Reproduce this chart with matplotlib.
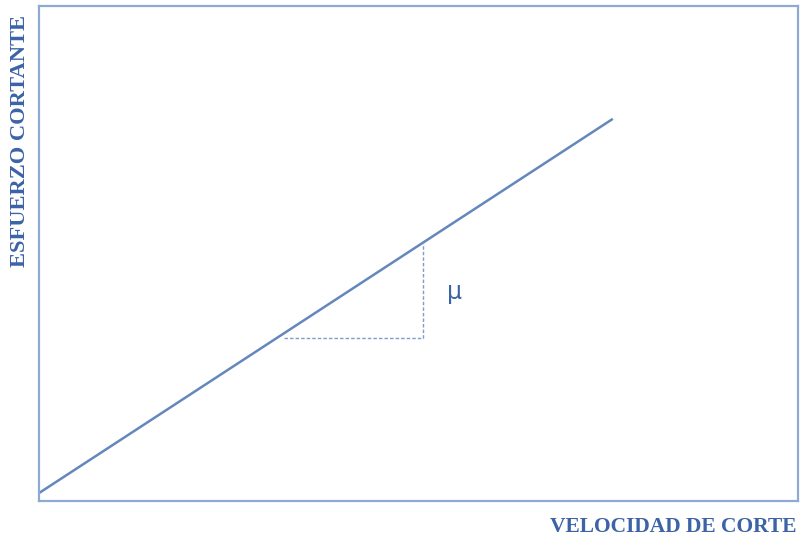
import matplotlib
matplotlib.use("Agg")
import matplotlib.pyplot as plt

# Data (arbitrary units)
line_x = [0.0, 7.56]
line_y = [0.16, 7.72]
tri_x = [3.23, 5.06, 5.06]
tri_y = [3.30, 3.30, 5.22]
mu_pos = (5.48, 4.22)
xlabel = "VELOCIDAD DE CORTE"
ylabel = "ESFUERZO CORTANTE"

text_color = "#3b63a6"
line_color = "#6487bd"
frame_color = "#8eaad2"
dash_color = "#7f9dcb"

fig = plt.figure(figsize=(8.01, 5.39), dpi=100)
W, H = 801, 539
left, right, top, bottom = 39, 798, 6, 501
ax = fig.add_axes([left / W, 1 - bottom / H, (right - left) / W, (bottom - top) / H])
ax.set_xlim(0, 10)
ax.set_ylim(0, 10)
ax.set_xticks([])
ax.set_yticks([])
for s in ax.spines.values():
    s.set_color(frame_color)
    s.set_linewidth(1.6)

ax.plot(line_x, line_y, color=line_color, lw=1.8, solid_capstyle="butt")
ax.plot(tri_x, tri_y, color=dash_color, lw=1.0, ls=(0, (2.5, 1.5)))
ax.text(mu_pos[0], mu_pos[1], "μ", color=text_color, fontsize=17,
        family="DejaVu Sans", ha="center", va="center")

fig.text(20 / W, 1 - 141 / H, ylabel, rotation=90, ha="center", va="center",
         color=text_color, fontsize=16.2, fontweight="bold", family="Liberation Serif")
fig.text(797 / W, 1 - 527 / H, xlabel, ha="right", va="center",
         color=text_color, fontsize=15.5, fontweight="bold", family="Liberation Serif")

fig.savefig("out.png", dpi=100)
